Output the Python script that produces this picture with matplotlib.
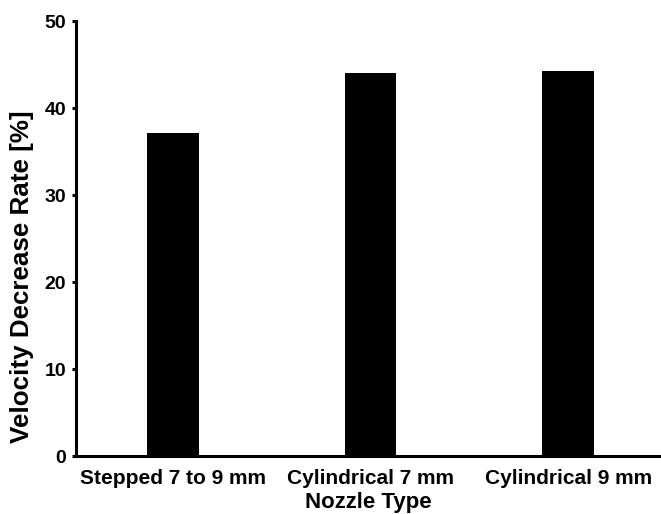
import matplotlib
matplotlib.use("Agg")
import matplotlib.pyplot as plt

categories = ["Stepped 7 to 9 mm", "Cylindrical 7 mm", "Cylindrical 9 mm"]
values = [37.1, 44.0, 44.3]
yticks = [0, 10, 20, 30, 40, 50]

plt.rcParams['font.family'] = ['Liberation Sans', 'DejaVu Sans']
plt.rcParams['font.weight'] = 'bold'

fig = plt.figure(figsize=(6.61, 5.14), dpi=100)
ax = fig.add_axes([0.115, 0.112, 0.885, 0.847])

x = list(range(len(categories)))
ax.bar(x, values, width=0.26, color='black', edgecolor='none')

ax.set_xlim(-0.49, 2.47)
ax.set_ylim(0, 50)
ax.set_yticks(yticks)
ax.set_yticklabels([str(t) for t in yticks], fontsize=14, fontweight='bold')
ax.set_xticks(x)
ax.set_xticklabels(categories, fontsize=15, fontweight='bold')

for s in ['top', 'right']:
    ax.spines[s].set_visible(False)
for s in ['left', 'bottom']:
    ax.spines[s].set_linewidth(2.2)

ax.tick_params(axis='y', direction='out', length=3, width=2.2, pad=4)
ax.tick_params(axis='x', length=0, pad=9)

ax.set_ylabel("Velocity Decrease Rate [%]", fontsize=18.7, fontweight='bold', labelpad=8)
ax.yaxis.label.set_y(0.412)
ax.set_xlabel("Nozzle Type", fontsize=16, fontweight='bold', labelpad=3)

fig.savefig("out.png", dpi=100)
